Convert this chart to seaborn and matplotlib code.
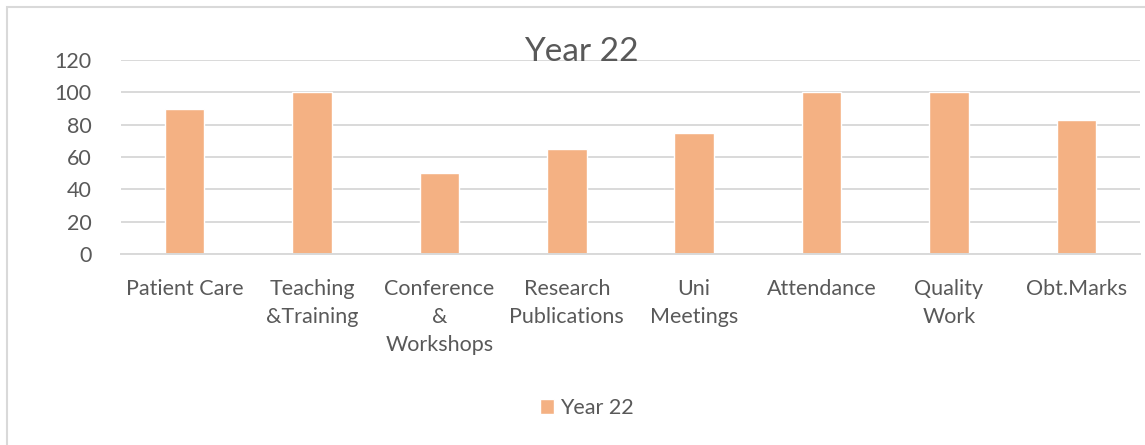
import matplotlib
matplotlib.use("Agg")
import matplotlib.pyplot as plt
import seaborn as sns
import pandas as pd
from matplotlib.patches import Rectangle

categories = ["Patient Care", "Teaching\n&Training", "Conference\n&\nWorkshops",
              "Research\nPublications", "Uni\nMeetings", "Attendance",
              "Quality\nWork", "Obt.Marks"]
values = [90, 100, 50, 65, 75, 100, 100, 83]
series_name = "Year 22"
yticks = [0, 20, 40, 60, 80, 100, 120]

sns.set_theme(style="white")
plt.rcParams['font.family'] = ['Lato', 'DejaVu Sans']

text_color = "#595959"
grid_color = "#D9D9D9"
bar_color = "#F4B183"

fig = plt.figure(figsize=(11.45, 4.45), dpi=100)
ax = fig.add_axes([121/1145, 1-254/445, (1140-121)/1145, (254-60)/445])

df = pd.DataFrame({"cat": categories, "val": values})
sns.barplot(data=df, x="cat", y="val", color=bar_color, width=0.31,
            saturation=1, label=series_name, ax=ax)

ax.set_ylim(0, 120)
ax.set_yticks(yticks)
ax.set_xlim(-0.5, len(categories) - 0.5)
ax.set_xlabel("")
ax.set_ylabel("")
ax.yaxis.grid(True, color=grid_color, linewidth=1.4)
ax.set_axisbelow(True)
for s in ["top", "right", "left"]:
    ax.spines[s].set_visible(False)
ax.spines["bottom"].set_color(grid_color)
ax.spines["bottom"].set_linewidth(1.4)
ax.tick_params(axis="both", length=0, colors=text_color, labelsize=15.5)
ax.tick_params(axis="x", pad=18)
ax.tick_params(axis="y", pad=21)
for lbl in ax.get_xticklabels():
    lbl.set_linespacing(1.5)
for lbl in ax.get_yticklabels():
    lbl.set_horizontalalignment("right")

fig.text(581/1145, 1-52/445, "Year 22", ha="center", va="center",
         fontsize=24, color=text_color)

leg = ax.legend(loc="center", bbox_to_anchor=(587/1145, 1-408/445),
                bbox_transform=fig.transFigure, frameon=False,
                fontsize=15.5, handlelength=0.65, handleheight=0.65,
                handletextpad=0.3)
for t in leg.get_texts():
    t.set_color(text_color)

fig.patches.append(Rectangle((7/1145, -0.1), 1.2, 1.1 - 7/445,
                             transform=fig.transFigure, fill=False,
                             edgecolor=grid_color, linewidth=1.5))

fig.savefig("out.png", dpi=100, facecolor="white")
